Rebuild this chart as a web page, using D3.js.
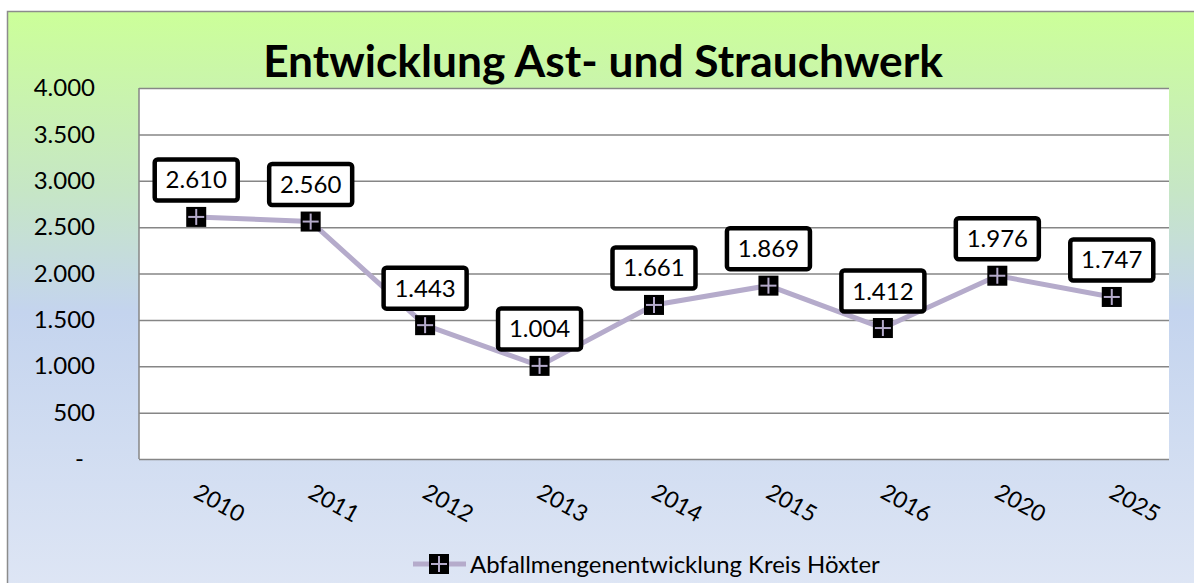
<!DOCTYPE html>
<html>
<head>
<meta charset="utf-8">
<script src="https://cdn.jsdelivr.net/npm/d3@7"></script>
<style>
  body { margin: 0; background: #fff; }
  svg { display: block; font-family: Lato, "Open Sans", sans-serif; }
</style>
</head>
<body>
<svg id="canvas"></svg>
<script>
const years = ["2010", "2011", "2012", "2013", "2014", "2015", "2016", "2020", "2025"];
const amounts = [2610, 2560, 1443, 1004, 1661, 1869, 1412, 1976, 1747];
const yTicks = [0, 500, 1000, 1500, 2000, 2500, 3000, 3500, 4000];
const titleText = "Entwicklung Ast- und Strauchwerk";
const seriesName = "Abfallmengenentwicklung Kreis Höxter";

const width = 1194, height = 583;
const plotLeft = 139, plotRight = 1169, plotTop = 88, plotBottom = 459;
const lineColor = "#b5abcb";

const canvas = d3.select("#canvas")
    .attr("width", width)
    .attr("height", height);

const defs = canvas.append("defs");
const grad = defs.append("linearGradient")
    .attr("id", "bg")
    .attr("x1", 0).attr("y1", 0).attr("x2", 0).attr("y2", 1);
grad.append("stop").attr("offset", "0%").attr("stop-color", "#ccff99");
grad.append("stop").attr("offset", "30%").attr("stop-color", "#c6e6c6");
grad.append("stop").attr("offset", "50%").attr("stop-color", "#c4d4ee");
grad.append("stop").attr("offset", "100%").attr("stop-color", "#e0e7f5");

// chart area (continues past the window on right and bottom)
canvas.append("rect")
    .attr("x", 7.5).attr("y", 11.5)
    .attr("width", 1220).attr("height", 600)
    .attr("fill", "url(#bg)")
    .attr("stroke", "#8c8c8c")
    .attr("stroke-width", 1.5);

const x = d3.scaleBand()
    .domain(years)
    .range([plotLeft, plotRight]);

const y = d3.scaleLinear()
    .domain([0, 4000])
    .range([plotBottom, plotTop]);

// plot area
canvas.append("rect")
    .attr("x", plotLeft).attr("y", plotTop)
    .attr("width", plotRight - plotLeft).attr("height", plotBottom - plotTop)
    .attr("fill", "#fff");

const fmt = v => v === 0 ? "-" : d3.format(",")(v).replace(/,/g, ".");

const yAxis = d3.axisLeft(y)
    .tickValues(yTicks)
    .tickSize(-(plotRight - plotLeft))
    .tickPadding(44)
    .tickFormat(fmt);

const gy = canvas.append("g")
    .attr("transform", `translate(${plotLeft},0)`)
    .call(yAxis);
gy.select(".domain").attr("stroke", "#868686").attr("stroke-width", 1.5)
    .attr("d", `M0,${plotTop}V${plotBottom}`);
gy.selectAll(".tick line").attr("stroke", "#868686").attr("stroke-width", 1.5);
gy.selectAll(".tick text")
    .attr("fill", "#000")
    .attr("font-size", 24)
    .attr("font-family", "Lato")
    .attr("x", d => d === 0 ? -55 : -44);

const xAxis = d3.axisBottom(x).tickSize(0).tickFormat(d => d);
const gx = canvas.append("g")
    .attr("transform", `translate(0,${plotBottom})`)
    .call(xAxis);
gx.select(".domain").remove();
gx.selectAll(".tick text")
    .attr("fill", "#000")
    .attr("font-size", 23)
    .attr("font-family", "Lato")
    .attr("text-anchor", "start")
    .attr("dy", 0)
    .attr("y", 0)
    .attr("transform", "translate(-4,38) rotate(29)");

// line
const line = d3.line()
    .x((d, i) => x(years[i]) + x.bandwidth() / 2)
    .y(d => y(d));

canvas.append("path")
    .datum(amounts)
    .attr("d", line)
    .attr("fill", "none")
    .attr("stroke", lineColor)
    .attr("stroke-width", 5)
    .attr("stroke-linejoin", "round");

function drawMarker(g, cx, cy) {
    g.append("rect")
        .attr("x", cx - 10).attr("y", cy - 10)
        .attr("width", 20).attr("height", 20)
        .attr("fill", "#000");
    g.append("line")
        .attr("x1", cx - 8).attr("x2", cx + 8).attr("y1", cy).attr("y2", cy)
        .attr("stroke", lineColor).attr("stroke-width", 2);
    g.append("line")
        .attr("x1", cx).attr("x2", cx).attr("y1", cy - 8).attr("y2", cy + 8)
        .attr("stroke", lineColor).attr("stroke-width", 2);
}

const points = canvas.append("g");
amounts.forEach((v, i) => {
    drawMarker(points, x(years[i]) + x.bandwidth() / 2, y(v));
});

// data labels
const labels = canvas.append("g")
    .selectAll("g")
    .data(amounts)
    .join("g")
    .attr("transform", (d, i) => `translate(${x(years[i]) + x.bandwidth() / 2},${y(d) - 37})`);

labels.append("rect")
    .attr("x", -41.5).attr("y", -20.5)
    .attr("width", 83).attr("height", 41)
    .attr("rx", 3)
    .attr("fill", "#fff")
    .attr("stroke", "#000")
    .attr("stroke-width", 4.5);

labels.append("text")
    .attr("text-anchor", "middle")
    .attr("y", 8.5)
    .attr("font-size", 24)
    .text(d => fmt(d));

// title
const title = canvas.append("text")
    .attr("x", 603)
    .attr("y", 77)
    .attr("text-anchor", "middle")
    .attr("font-weight", "bold")
    .attr("font-size", 40)
    .text(titleText);
const tw = title.node().getComputedTextLength();
title.attr("font-size", 40 * 680 / tw);

// legend
const legend = canvas.append("g");
legend.append("line")
    .attr("x1", 413).attr("x2", 466)
    .attr("y1", 564).attr("y2", 564)
    .attr("stroke", lineColor)
    .attr("stroke-width", 5);
drawMarker(legend, 439, 564);
const legText = legend.append("text")
    .attr("x", 470)
    .attr("y", 573)
    .attr("font-size", 23)
    .text(seriesName);
const lw = legText.node().getComputedTextLength();
legText.attr("font-size", 23 * 410 / lw);
</script>
</body>
</html>
